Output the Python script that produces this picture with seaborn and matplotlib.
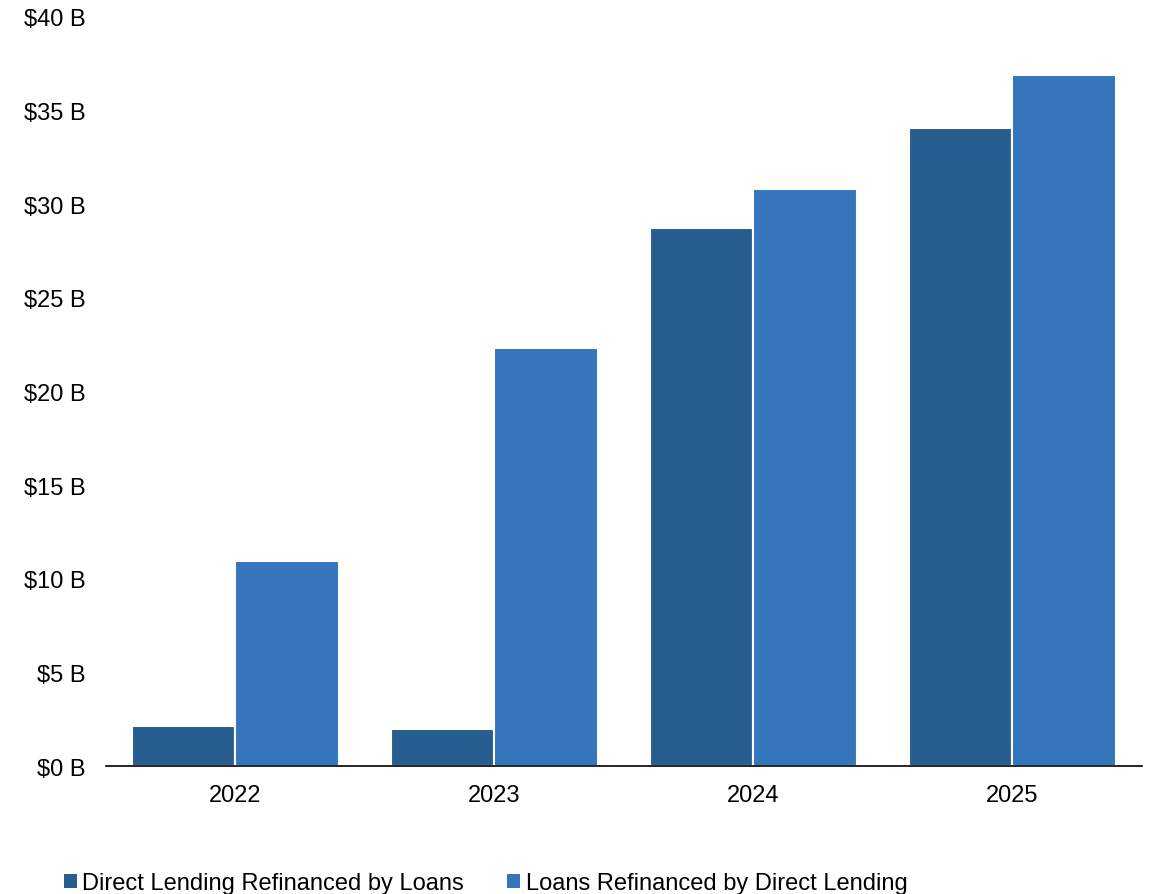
import pandas as pd
import numpy as np
import matplotlib.pyplot as plt
import seaborn as sns
from matplotlib.patches import Patch

years = ["2022", "2023", "2024", "2025"]
direct_by_loans = [2.15, 1.95, 28.75, 34.05]
loans_by_direct = [10.95, 22.3, 30.8, 36.9]
series = ["Direct Lending Refinanced by Loans", "Loans Refinanced by Direct Lending"]
colors = ["#275D8F", "#3475BC"]

df = pd.DataFrame({
    "year": years * 2,
    "value": direct_by_loans + loans_by_direct,
    "series": [series[0]] * 4 + [series[1]] * 4,
})

sns.set_style("white")
plt.rcParams["font.family"] = ["Liberation Sans", "DejaVu Sans"]
plt.rcParams["text.color"] = "black"
plt.rcParams["xtick.color"] = "black"
plt.rcParams["ytick.color"] = "black"

fig = plt.figure(figsize=(11.52, 8.95), dpi=100)
ax = fig.add_axes([0.092, 0.143, 0.899, 0.837])

sns.barplot(data=df, x="year", y="value", hue="series", palette=colors,
            saturation=1, width=0.8, edgecolor="white", linewidth=1.5,
            ax=ax, legend=False)

ax.set_xlim(-0.5, 3.5)
ax.set_ylim(0, 40)
ax.set_yticks(range(0, 41, 5))
ax.set_yticklabels([f"${v} B" for v in range(0, 41, 5)])
ax.set_xlabel("")
ax.set_ylabel("")
ax.tick_params(axis="y", length=0, pad=15, labelsize=17)
ax.tick_params(axis="x", length=0, pad=13, labelsize=17)

for s in ["top", "right", "left"]:
    ax.spines[s].set_visible(False)
ax.spines["bottom"].set_color("black")
ax.spines["bottom"].set_linewidth(1.2)

handles = [Patch(facecolor=c, edgecolor="none") for c in colors]
fig.legend(handles, series, loc="center left", bbox_to_anchor=(0.047, 0.012),
           ncol=2, frameon=False, fontsize=17, handlelength=0.55, handleheight=0.55,
           handletextpad=0.25, columnspacing=1.8, borderaxespad=0)

fig.savefig("out.png", dpi=100)
